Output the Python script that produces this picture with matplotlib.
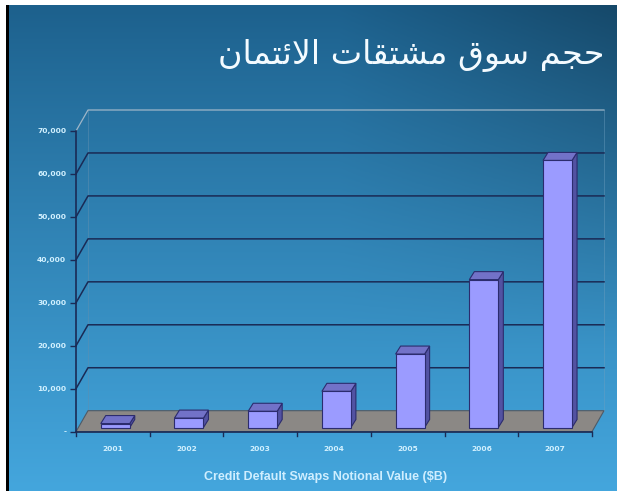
import numpy as np
import matplotlib
matplotlib.use("Agg")
import matplotlib.pyplot as plt
from matplotlib.patches import Polygon, Rectangle
from matplotlib.colors import to_rgb

# ---- data ----
years = ["2001", "2002", "2003", "2004", "2005", "2006", "2007"]
values = [919, 2192, 3779, 8422, 17096, 34423, 62173]
yticks = [0, 10000, 20000, 30000, 40000, 50000, 60000, 70000]
ytick_labels = ["-", "10,000", "20,000", "30,000", "40,000", "50,000", "60,000", "70,000"]
title_ar = "حجم سوق مشتقات الائتمان"
xlabel = "Credit Default Swaps Notional Value ($B)"


# ---- minimal Arabic shaping (presentation forms) ----
FORMS = {  # iso, fin, ini, med
    "ح": (0xFEA1, 0xFEA2, 0xFEA3, 0xFEA4),
    "ج": (0xFE9D, 0xFE9E, 0xFE9F, 0xFEA0),
    "م": (0xFEE1, 0xFEE2, 0xFEE3, 0xFEE4),
    "س": (0xFEB1, 0xFEB2, 0xFEB3, 0xFEB4),
    "و": (0xFEED, 0xFEEE, None, None),
    "ق": (0xFED5, 0xFED6, 0xFED7, 0xFED8),
    "ش": (0xFEB5, 0xFEB6, 0xFEB7, 0xFEB8),
    "ت": (0xFE95, 0xFE96, 0xFE97, 0xFE98),
    "ا": (0xFE8D, 0xFE8E, None, None),
    "ل": (0xFEDD, 0xFEDE, 0xFEDF, 0xFEE0),
    "ئ": (0xFE89, 0xFE8A, 0xFE8B, 0xFE8C),
    "ن": (0xFEE5, 0xFEE6, 0xFEE7, 0xFEE8),
}


def shape_word(w):
    toks = []
    i = 0
    while i < len(w):
        if w[i] == "ل" and i + 1 < len(w) and w[i + 1] == "ا":
            toks.append("LA")
            i += 2
        else:
            toks.append(w[i])
            i += 1

    def joins_left(t):
        if t == "LA":
            return False
        return FORMS[t][2] is not None

    out = []
    for k, t in enumerate(toks):
        prev_j = k > 0 and joins_left(toks[k - 1])
        next_exists = k + 1 < len(toks)
        if t == "LA":
            out.append(chr(0xFEFC if prev_j else 0xFEFB))
            continue
        iso, fin, ini, med = FORMS[t]
        cl = joins_left(t) and next_exists
        if prev_j and cl:
            out.append(chr(med))
        elif prev_j:
            out.append(chr(fin))
        elif cl:
            out.append(chr(ini))
        else:
            out.append(chr(iso))
    return "".join(out)


def shape(s):
    return " ".join(shape_word(w) for w in s.split(" "))[::-1]


W, H = 617, 491
fig = plt.figure(figsize=(W / 100, H / 100), dpi=100)

# ---- background gradient ----
bg = fig.add_axes([0, 0, 1, 1], zorder=-10)
bg.set_axis_off()
yy, xx = np.mgrid[0:1:200j, 0:1:250j]
top = np.array(to_rgb("#1c5f8b"))
bot = np.array(to_rgb("#44a6dd"))
t = yy ** 0.9
img = top[None, None, :] * (1 - t[..., None]) + bot[None, None, :] * t[..., None]
dark = np.clip((xx - 0.55) / 0.45, 0, 1) * np.clip(1 - yy * 1.4, 0, 1) * 0.25
img = img * (1 - dark[..., None])
bg.imshow(img, extent=[0, 1, 0, 1], aspect="auto", origin="upper")
bg.set_xlim(0, 1)
bg.set_ylim(0, 1)
bg.add_patch(Rectangle((0, 1 - 5 / H), 1, 5 / H, color="white", lw=0))
bg.add_patch(Rectangle((0, 0), 6 / W, 1, color="white", lw=0))
bg.add_patch(Rectangle((6 / W, 0), 3 / W, 1 - 5 / H, color="black", lw=0))

# title
fig.text(605 / W, 1 - 56 / H, shape(title_ar), ha="right", va="center",
         fontsize=24, color="#f4fbff", family=["DejaVu Sans"])

# ---- chart axes: front plane ----
x0, x1 = 76, 592
ybase, ytop = 431.7, 131.0
ax = fig.add_axes([x0 / W, 1 - ybase / H, (x1 - x0) / W, (ybase - ytop) / H])
ax.set_xlim(-0.5, 6.5)
ax.set_ylim(0, 70000)
ax.patch.set_alpha(0)
for s in ax.spines.values():
    s.set_visible(False)

px_x = (x1 - x0) / 7.0
px_y = (ybase - ytop) / 70000.0
Ddx = 12 / px_x
Ddy = 21 / px_y

grid_c = "#1a2a55"
floor = Polygon([(-0.5, 0), (6.5, 0), (6.5 + Ddx, Ddy), (-0.5 + Ddx, Ddy)],
                closed=True, facecolor="#8b8885", edgecolor="#4f5a66", lw=0.8,
                clip_on=False, zorder=1)
ax.add_patch(floor)

for v in yticks[1:-1]:
    ax.plot([-0.5, -0.5 + Ddx, 6.5 + Ddx], [v, v + Ddy, v + Ddy],
            color=grid_c, lw=1.1, clip_on=False, zorder=0.5)
ax.plot([-0.5, -0.5 + Ddx, 6.5 + Ddx], [70000, 70000 + Ddy, 70000 + Ddy],
        color="#9fb6c8", lw=0.9, clip_on=False, zorder=0.5)
ax.plot([-0.5 + Ddx, -0.5 + Ddx], [Ddy, 70000 + Ddy], color="#5f8fb0",
        lw=0.6, alpha=0.6, clip_on=False, zorder=0.4)
ax.plot([6.5 + Ddx, 6.5 + Ddx], [Ddy, 70000 + Ddy], color="#6fa0c0",
        lw=0.6, alpha=0.5, clip_on=False, zorder=0.4)

xs = np.arange(len(years))
bw = 29 / px_x
f_dx, f_dy = 0.2 * Ddx, 0.2 * Ddy
b_dx, b_dy = 5 / px_x, 8 / px_y
front = ax.bar(xs + f_dx, values, width=bw, bottom=f_dy, color="#9b9bff",
               edgecolor="#2c2c6e", linewidth=0.8, zorder=3, clip_on=False)
for rect, v in zip(front, values):
    xl = rect.get_x()
    xr = xl + rect.get_width()
    yb = rect.get_y()
    yt = yb + rect.get_height()
    side = Polygon([(xr, yb), (xr + b_dx, yb + b_dy), (xr + b_dx, yt + b_dy), (xr, yt)],
                   closed=True, facecolor="#5252a2", edgecolor="#2c2c6e", lw=0.8,
                   zorder=2.9, clip_on=False)
    topf = Polygon([(xl, yt), (xr, yt), (xr + b_dx, yt + b_dy), (xl + b_dx, yt + b_dy)],
                   closed=True, facecolor="#7272c8", edgecolor="#2c2c6e", lw=0.8,
                   zorder=2.9, clip_on=False)
    ax.add_patch(side)
    ax.add_patch(topf)

ax.plot([-0.5, -0.5], [0, 70000], color=grid_c, lw=1.2, clip_on=False, zorder=4)
ax.plot([-0.5, 6.5], [0, 0], color=grid_c, lw=1.2, clip_on=False, zorder=4)

lab_c = "#d2f1ff"
ax.set_yticks(yticks)
ax.set_yticklabels(ytick_labels)
ax.set_xticks(xs)
ax.set_xticklabels(years)
ax.tick_params(axis="y", length=4, width=1, color=grid_c, direction="out",
               labelsize=5.4, labelcolor=lab_c, pad=3)
ax.tick_params(axis="x", length=0, labelsize=5.4, labelcolor=lab_c, pad=10)
for lab in ax.get_xticklabels() + ax.get_yticklabels():
    lab.set_fontweight("bold")
    lab.set_family(["DejaVu Sans"])

for b in np.arange(-0.5, 7.0, 1.0):
    ax.plot([b, b], [0, -4 / px_y], color=grid_c, lw=1, clip_on=False, zorder=4)

fig.text(326 / W, 1 - 477 / H, xlabel, ha="center", va="center",
         fontsize=9, fontweight="bold", color="#cfeeff",
         family=["Liberation Sans", "DejaVu Sans"])

fig.savefig("out.png", dpi=100)
